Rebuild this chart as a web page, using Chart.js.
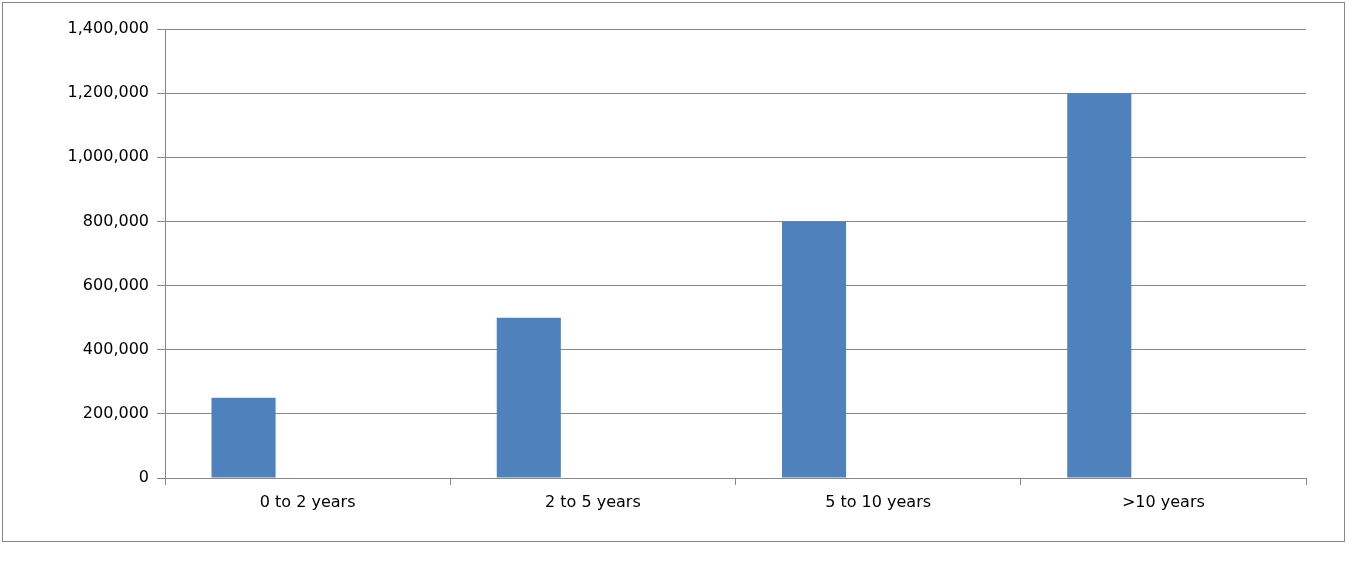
<!DOCTYPE html>
<html>
<head>
<meta charset="utf-8">
<script src="https://cdn.jsdelivr.net/npm/chart.js@4"></script>
<style>
  body { margin: 0; background: #fff; }
  #wrap { position: relative; width: 1360px; height: 561px; }
  #frame { position: absolute; left: 2px; top: 2px; width: 1343px; height: 540px; border: 1px solid #888; box-sizing: border-box; }
  canvas { position: absolute; left: 0; top: 0; }
</style>
</head>
<body>
<div id="wrap">
  <div id="frame"></div>
  <canvas id="grafico" width="1360" height="561"></canvas>
</div>
<script>
// categorias y valores
const categorias = ['0 to 2 years', '2 to 5 years', '5 to 10 years', '>10 years'];
const valores = [250000, 500000, 800000, 1200000];
const vacios = [null, null, null, null];

const fuente = { family: 'DejaVu Sans', size: 16 };

const ctx = document.getElementById('grafico').getContext('2d');
new Chart(ctx, {
  type: 'bar',
  data: {
    labels: categorias,
    datasets: [
      { data: valores, backgroundColor: '#4f81bd' },
      { data: vacios, backgroundColor: '#c0504d' },
      { data: vacios, backgroundColor: '#9bbb59' }
    ]
  },
  options: {
    responsive: false,
    animation: false,
    categoryPercentage: 0.674,
    barPercentage: 1,
    layout: { padding: { left: 0, right: 54, top: 29, bottom: 0 } },
    plugins: { legend: { display: false }, tooltip: { enabled: false } },
    scales: {
      x: {
        offset: true,
        grid: { offset: true, drawOnChartArea: false, color: '#888', tickLength: 7 },
        border: { color: '#888' },
        ticks: { color: '#000', font: fuente, padding: 8 },
        afterFit: s => { s.height = 83; }
      },
      y: {
        min: 0, max: 1400000,
        grid: { color: '#888', tickLength: 8 },
        border: { color: '#888' },
        ticks: { stepSize: 200000, color: '#000', font: fuente, padding: 8 },
        afterFit: s => { s.width = 165; }
      }
    }
  }
});
</script>
</body>
</html>
